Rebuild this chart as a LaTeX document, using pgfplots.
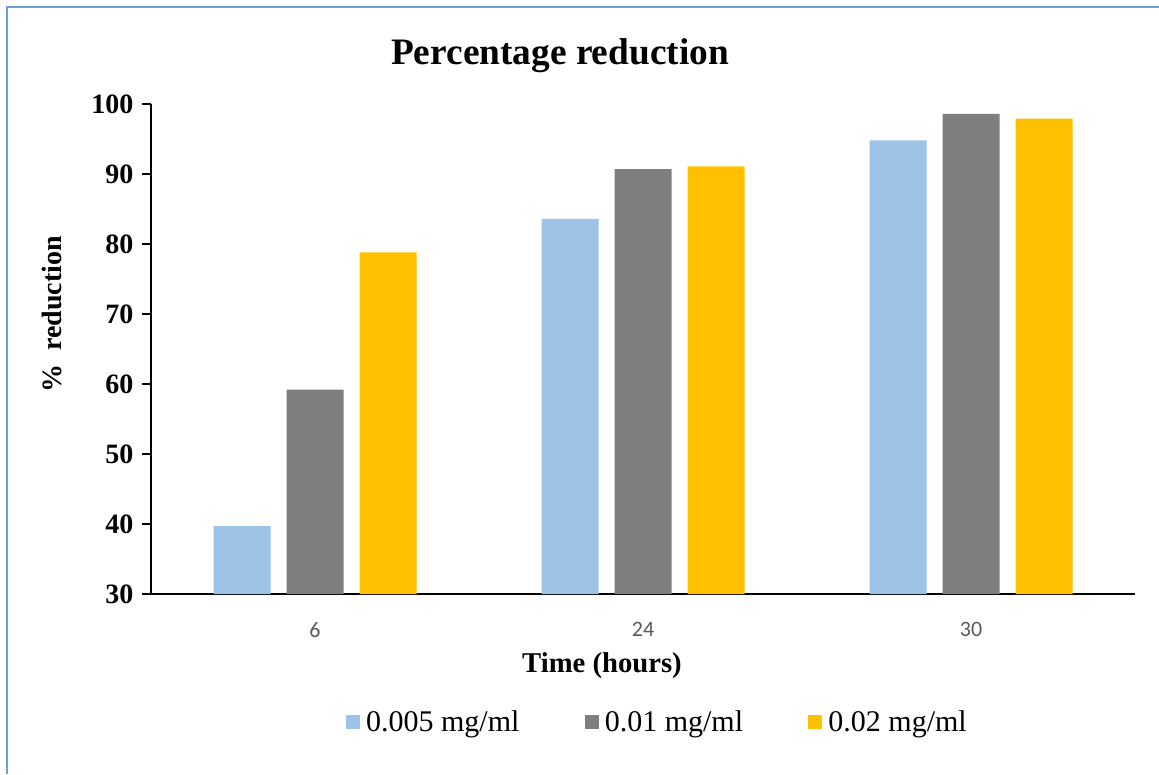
\documentclass[border=0pt]{standalone}
\usepackage{fontspec}
\setmainfont{Liberation Serif}
\newfontfamily\carlito{Carlito}
\usepackage{pgfplots}
\pgfplotsset{compat=1.18}
\definecolor{cblue}{HTML}{9DC3E6}
\definecolor{cgray}{HTML}{7F7F7F}
\definecolor{cyellow}{HTML}{FFC000}
\definecolor{cframe}{HTML}{6A9FDA}
\definecolor{ctick}{HTML}{595959}
\begin{document}
\begin{tikzpicture}
\path[use as bounding box] (0,0) rectangle (869.25pt,580.5pt);
\draw[cframe, line width=1.5pt] (5.2pt,0) -- (5.2pt,575.3pt) -- (869.25pt,575.3pt);
\begin{axis}[
  at={(113.25pt,135pt)}, anchor=south west,
  scale only axis, width=738pt, height=367.5pt,
  ybar=12pt, bar width=42.75pt,
  xmin=-0.5, xmax=2.5, ymin=30, ymax=100,
  ytick={30,40,...,100},
  xtick=data, xticklabels={6,24,30},
  axis x line*=bottom, axis y line*=left,
  axis line style={black, line width=0.9pt},
  x axis line style={-}, y axis line style={-},
  major x tick style={draw=none},
  major y tick style={black, line width=0.9pt},
  tick align=outside, major tick length=6.75pt,
  /pgf/number format/assume math mode=true,
  yticklabel style={font=\fontsize{21}{25}\selectfont\bfseries, xshift=-3pt},
  xticklabel style={font=\carlito\fontsize{16.5}{20}\selectfont, text=ctick, yshift=-11pt},
  legend style={at={(0.198,-0.261)}, anchor=west, draw=none, inner sep=0pt,
     font=\fontsize{22.5}{26}\selectfont, legend columns=3,
     /tikz/every odd column/.style={column sep=3.5pt},
     /tikz/every even column/.style={column sep=48pt},
     nodes={inner sep=1pt}},
  legend image code/.code={\fill[#1] (0pt,-5.25pt) rectangle (10.5pt,5.25pt);},
  clip=false,
]
\addplot[fill=cblue, draw=none] coordinates {(0,39.7) (1,83.6) (2,94.8)};
\addplot[fill=cgray, draw=none] coordinates {(0,59.2) (1,90.7) (2,98.6)};
\addplot[fill=cyellow, draw=none] coordinates {(0,78.8) (1,91.1) (2,97.9)};
\legend{0.005 mg/ml, 0.01 mg/ml, 0.02 mg/ml}
\end{axis}
\node[anchor=base, font=\fontsize{28}{32}\selectfont\bfseries] at (420pt,531.75pt) {Percentage reduction};
\node[anchor=base, rotate=90, font=\fontsize{21}{25}\selectfont\bfseries] at (46.3pt,344.6pt) {\%\ \ reduction};
\node[anchor=base, font=\fontsize{21.5}{25}\selectfont\bfseries] at (451.5pt,75.75pt) {Time (hours)};
\end{tikzpicture}
\end{document}
